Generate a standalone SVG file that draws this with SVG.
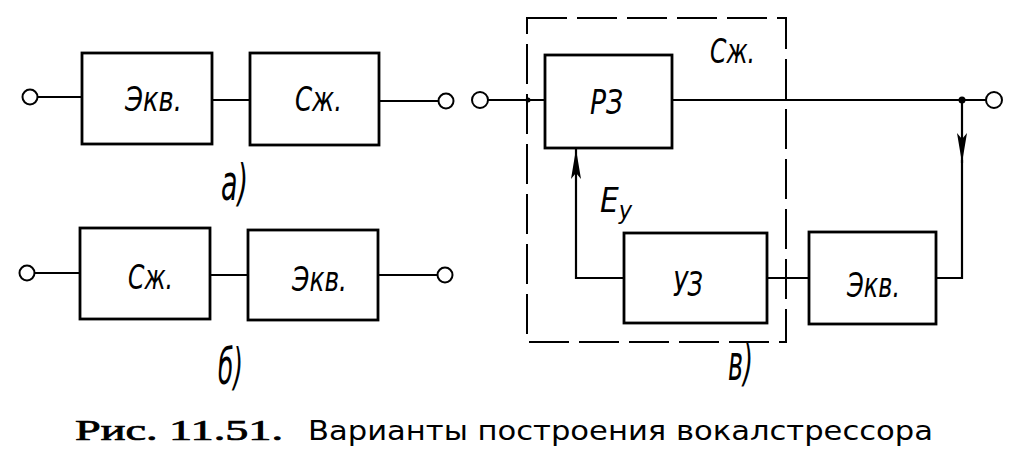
<svg xmlns="http://www.w3.org/2000/svg" width="1018" height="465" viewBox="0 0 1018 465">
<style>
.box{fill:none;stroke:#000;stroke-width:2.8}
.ln{fill:none;stroke:#000;stroke-width:2.2}
.term{fill:#fff;stroke:#000;stroke-width:2}
.dash{fill:none;stroke:#000;stroke-width:2;stroke-dasharray:40 10}
.lbl{font-family:"Liberation Sans Narrow","DejaVu Sans Condensed","Liberation Sans",sans-serif;font-style:italic;font-size:33px;fill:#000}
.cap1{font-family:"Liberation Serif","DejaVu Serif",serif;font-size:29px;fill:#000;stroke:#000;stroke-width:0.7}
.cap2{font-family:"DejaVu Sans","Liberation Sans",sans-serif;font-size:27px;fill:#000}
</style>
<defs>
<marker id="arr" markerUnits="userSpaceOnUse" markerWidth="32" markerHeight="12" refX="30" refY="5" orient="auto">
<path d="M0,0 L30,5 L0,10 L6,5 z" fill="#000"/>
</marker>
</defs>
<rect width="1018" height="465" fill="#fff"/>

<!-- Diagram a -->
<g id="a-ekv"><rect class="box" x="82" y="53" width="130" height="91"/><text class="lbl" x="125" y="111" textLength="57" lengthAdjust="spacingAndGlyphs">Экв.</text></g>
<g id="a-szh"><rect class="box" x="250" y="53" width="129" height="92"/><text class="lbl" x="295" y="111" textLength="47" lengthAdjust="spacingAndGlyphs">Сж.</text></g>
<g id="a-in"><circle class="term" cx="30" cy="97" r="7.5"/></g>
<g id="a-out"><circle class="term" cx="446" cy="101" r="7.5"/></g>
<text class="lbl" transform="translate(221,200) scale(1,1.5)" font-size="25" textLength="27" lengthAdjust="spacingAndGlyphs">а)</text>

<!-- Diagram b -->
<g id="b-szh"><rect class="box" x="80" y="228" width="130" height="91"/><text class="lbl" x="128" y="289" textLength="45" lengthAdjust="spacingAndGlyphs">Сж.</text></g>
<g id="b-ekv"><rect class="box" x="248" y="230" width="130" height="90"/><text class="lbl" x="292" y="291" textLength="55" lengthAdjust="spacingAndGlyphs">Экв.</text></g>
<g id="b-in"><circle class="term" cx="27" cy="273" r="7.5"/></g>
<g id="b-out"><circle class="term" cx="445" cy="275" r="7.5"/></g>
<text class="lbl" transform="translate(218,384) scale(1,1.5)" font-size="25" textLength="25" lengthAdjust="spacingAndGlyphs">б)</text>

<!-- Diagram v -->
<g id="v-frame"><rect class="dash" x="527" y="18" width="259" height="324"/><text class="lbl" x="710" y="63" textLength="45" lengthAdjust="spacingAndGlyphs">Сж.</text></g>
<g id="v-rz"><rect class="box" x="545" y="55" width="127" height="93"/><text class="lbl" x="590" y="114" textLength="33" lengthAdjust="spacingAndGlyphs">РЗ</text></g>
<g id="v-uz"><rect class="box" x="624" y="233" width="143" height="90"/><text class="lbl" x="673" y="296" textLength="30" lengthAdjust="spacingAndGlyphs">УЗ</text></g>
<g id="v-ekv"><rect class="box" x="809" y="232" width="127" height="92"/><text class="lbl" x="847" y="297" textLength="53" lengthAdjust="spacingAndGlyphs">Экв.</text></g>
<g id="v-in"><circle class="term" cx="480" cy="100" r="8"/></g>
<g id="v-out"><circle class="term" cx="994" cy="100" r="8"/></g>
<text class="lbl" x="600" y="212" font-size="28">E<tspan dy="7" font-size="25">у</tspan></text>
<text class="lbl" transform="translate(728,380) scale(1,1.5)" font-size="25" textLength="25" lengthAdjust="spacingAndGlyphs">в)</text>

<!-- Connectors -->
<g id="connectors">
<line class="ln" x1="37" y1="97" x2="82" y2="97"/>
<line class="ln" x1="212" y1="100" x2="250" y2="100"/>
<line class="ln" x1="379" y1="101" x2="439" y2="101"/>
<line class="ln" x1="34" y1="273" x2="80" y2="273"/>
<line class="ln" x1="210" y1="275" x2="248" y2="275"/>
<line class="ln" x1="378" y1="275" x2="438" y2="275"/>
<line class="ln" x1="488" y1="100" x2="545" y2="100"/>
<line class="ln" x1="672" y1="100" x2="986" y2="100"/>
<circle cx="528" cy="100" r="2.5" fill="#000"/>
<circle cx="962" cy="100" r="3.5" fill="#000"/>
<path class="ln" d="M962,100 V163" marker-end="url(#arr)"/>
<path class="ln" d="M962,160 V278 H936"/>
<line class="ln" x1="767" y1="278" x2="809" y2="278"/>
<path class="ln" d="M624,278 H576 V149" marker-end="url(#arr)"/>
</g>

<!-- Caption -->
<text class="cap1" x="75" y="440" textLength="208" lengthAdjust="spacingAndGlyphs">Рис. 11.51.</text>
<text class="cap2" x="308" y="440" textLength="625" lengthAdjust="spacingAndGlyphs">Варианты построения вокалстрессора</text>
</svg>
